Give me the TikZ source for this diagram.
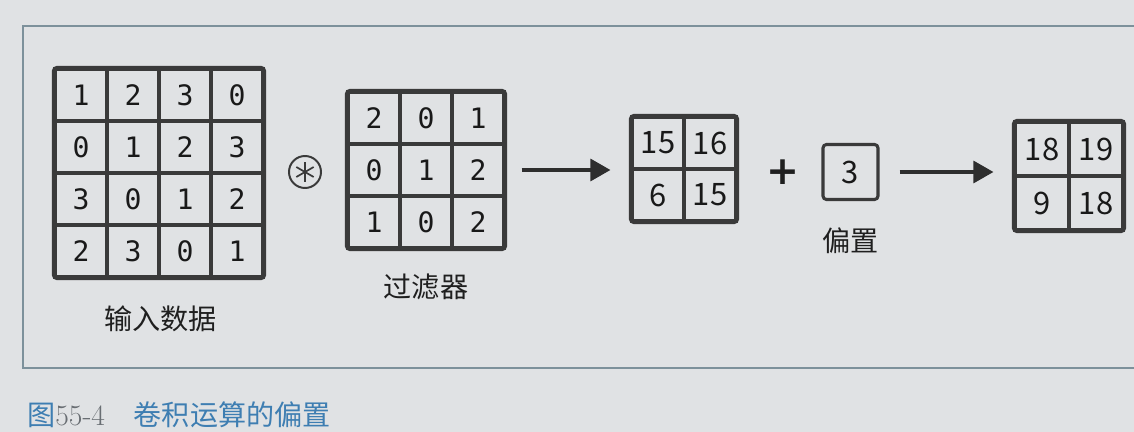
\documentclass[tikz,border=0pt]{standalone}
\usepackage{fontspec}
\usepackage{tikz}
\usetikzlibrary{arrows.meta}
\usetikzlibrary{positioning}

\newfontfamily\cjk{Noto Sans CJK SC}
\newfontfamily\mono{DejaVu Sans Mono}
\newfontfamily\symb{DejaVu Sans}

\definecolor{paper}{RGB}{224,226,228}
\definecolor{ink}{RGB}{58,58,58}
\definecolor{framegray}{RGB}{125,145,155}
\definecolor{capblue}{RGB}{62,126,178}
\definecolor{capgray}{RGB}{105,110,115}

\tikzset{
  cell/.style={draw=ink, line width=2.2pt, minimum size=1.3cm, inner sep=0pt, text=black!90, font=\mono\fontsize{20}{20}\selectfont},
  sumcell/.style={cell, font=\cjk\fontsize{22}{22}\selectfont},
  outline/.style={draw=ink, line width=2.2pt, rounded corners=2.5pt},
  tag/.style={inner sep=0pt, text=black!88, font=\cjk\fontsize{20}{20}\selectfont},
  flow/.style={draw=ink!80!black, line width=2.2pt, -{Triangle[length=0.5cm,width=0.55cm]}},
}

\begin{document}
\begin{tikzpicture}[x=0.025cm, y=-0.025cm]

\pgfmathsetmacro{\cs}{52};
\pgfmathsetmacro{\os}{54};

% page and frame
\fill[paper] (0,0) rectangle (1134,432);
\useasboundingbox (0,0) rectangle (1134,432);
\draw[framegray, line width=0.8pt] (1134,26) -- (23,26) -- (23,368) -- (1134,368);

% input data
\foreach \row [count=\ri] in {{1,2,3,0},{0,1,2,3},{3,0,1,2},{2,3,0,1}}
  \foreach \v [count=\ci] in \row
    \node[cell] (in-\ri-\ci) at ({55+(\ci-0.5)*\cs},{69+(\ri-0.5)*\cs}) {\v};
\draw[outline] (in-1-1.north west) rectangle (in-4-4.south east);
\node[tag, below=0.68cm of in-4-2.south east] (inlabel) {输入数据};

% convolution sign
\node[draw=ink, circle, line width=1.4pt, minimum size=0.8cm, inner sep=0pt] (conv) at (305,172) {};
\foreach \a in {30,90,...,330}
  \draw[ink, line width=1.2pt] (conv.center) -- +(\a:0.25cm);

% filter
\foreach \row [count=\ri] in {{2,0,1},{0,1,2},{1,0,2}}
  \foreach \v [count=\ci] in \row
    \node[cell] (f-\ri-\ci) at ({348+(\ci-0.5)*\cs},{92+(\ri-0.5)*\cs}) {\v};
\draw[outline] (f-1-1.north west) rectangle (f-3-3.south east);
\node[tag, below=0.6cm of f-3-2.south] (flabel) {过滤器};

% result of the convolution
\foreach \row [count=\ri] in {{15,16},{6,15}}
  \foreach \v [count=\ci] in \row
    \node[sumcell] (r-\ri-\ci) at ({632+(\ci-0.5)*\cs},{117+(\ri-0.5)*\cs}) {\v};
\draw[outline] (r-1-1.north west) rectangle (r-2-2.south east);
\draw[flow, shorten <=0.4cm, shorten >=0.5cm] (f-2-3.east) -- (f-2-3.east -| r-1-1.west);

% bias
\node[inner sep=0pt, text=black!88, font=\symb\bfseries\fontsize{28}{28}\selectfont] (plus) at (783,172) {+};
\node[sumcell, rounded corners=2.5pt, minimum size=1.375cm] (bias) at (850.5,172) {3};
\node[tag, below=0.65cm of bias] (blabel) {偏置};

% output
\foreach \row [count=\ri] in {{18,19},{9,18}}
  \foreach \v [count=\ci] in \row
    \node[sumcell, minimum size=1.35cm] (o-\ri-\ci) at ({1015+(\ci-0.5)*\os},{122+(\ri-0.5)*\os}) {\v};
\draw[outline] (o-1-1.north west) rectangle (o-2-2.south east);
\draw[flow, shorten <=0.5cm, shorten >=0.5cm] (bias.east) -- (bias.east -| o-1-1.west);

% caption
\node[anchor=west, inner sep=0pt, font=\fontsize{20}{20}\selectfont] (caption) at (27,415)
  {\color{capblue}\cjk 图{\rmfamily\fontsize{21}{21}\selectfont\color{capgray}55-4}\hspace{0.72cm}卷积运算的偏置};

\end{tikzpicture}
\end{document}
